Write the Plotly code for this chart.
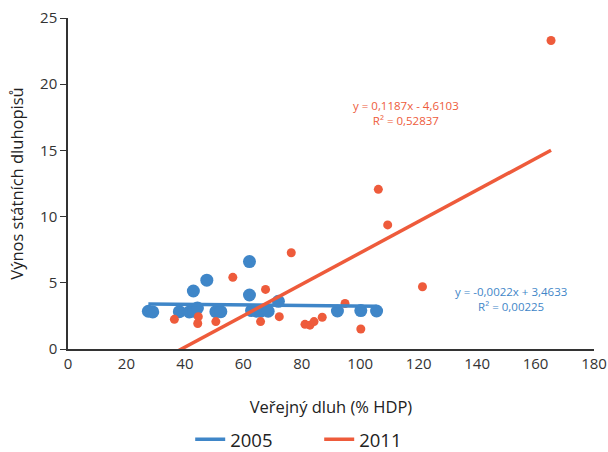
import plotly.graph_objects as go

# 2005 data (public debt % GDP, bond yield %)
debt_2005 = [27.5, 29.0, 38.1, 41.5, 43.0, 44.3, 42.9, 47.5, 50.6, 52.3, 62.1, 62.1,
             62.8, 64.5, 66.0, 68.5, 72.0, 92.2, 100.2, 105.6]
yield_2005 = [2.85, 2.8, 2.82, 2.8, 2.85, 3.1, 4.38, 5.2, 2.82, 2.82, 6.6, 4.08,
              2.9, 2.85, 2.85, 2.85, 3.6, 2.87, 2.9, 2.87]

# 2011 data
debt_2011 = [36.4, 44.6, 44.4, 50.6, 56.4, 67.6, 65.9, 72.3, 76.4, 81.1, 82.8, 84.2,
             87.0, 94.8, 100.2, 106.2, 109.4, 121.3, 165.3]
yield_2011 = [2.24, 2.44, 1.93, 2.07, 5.41, 4.5, 2.07, 2.44, 7.27, 1.86, 1.8, 2.07,
              2.4, 3.44, 1.51, 12.06, 9.37, 4.7, 23.3]

# trendline coefficients (slope, intercept) from chart labels
coef_2005 = [-0.0022, 3.4633]
coef_2011 = [0.1187, -4.6103]
eq_2005 = "y = -0,0022x + 3,4633<br>R² = 0,00225"
eq_2011 = "y = 0,1187x - 4,6103<br>R² = 0,52837"

x_ticks = [0, 20, 40, 60, 80, 100, 120, 140, 160, 180]
y_ticks = [0, 5, 10, 15, 20, 25]

BLUE = "#3F86C8"
RED = "#EE5B3B"

fig = go.Figure()

fig.add_trace(go.Scatter(x=debt_2005, y=yield_2005, mode="markers",
                         marker=dict(color=BLUE, size=13), showlegend=False,
                         hoverinfo="x+y"))
fig.add_trace(go.Scatter(x=debt_2011, y=yield_2011, mode="markers",
                         marker=dict(color=RED, size=9), showlegend=False,
                         hoverinfo="x+y"))

x05 = [min(debt_2005), max(debt_2005)]
fig.add_trace(go.Scatter(x=x05, y=[coef_2005[0] * v + coef_2005[1] for v in x05],
                         mode="lines", line=dict(color=BLUE, width=3.5), name="2005"))
x11 = [min(debt_2011), max(debt_2011)]
fig.add_trace(go.Scatter(x=x11, y=[coef_2011[0] * v + coef_2011[1] for v in x11],
                         mode="lines", line=dict(color=RED, width=3.5), name="2011"))

fig.add_annotation(x=115.5, y=17.8, xref="x", yref="y", text=eq_2011, showarrow=False,
                   font=dict(color=RED, size=11.5), align="center")
fig.add_annotation(x=151.5, y=3.75, xref="x", yref="y", text=eq_2005, showarrow=False,
                   font=dict(color=BLUE, size=11.5), align="center")

fig.update_layout(
    width=608, height=452,
    margin=dict(l=68, r=14, t=18, b=103, autoexpand=False),
    paper_bgcolor="white", plot_bgcolor="white",
    font=dict(family="Open Sans", color="#222222"),
    legend=dict(orientation="h", xref="container", yref="container",
                x=0.525, xanchor="center", y=0.027, yanchor="middle",
                font=dict(size=18.5), entrywidthmode="pixels", entrywidth=84),
)
fig.update_xaxes(range=[0, 180], tickvals=x_ticks, showgrid=False, zeroline=False,
                 showline=True, linecolor="#333333", linewidth=1.5, ticks="",
                 automargin=False,
                 tickfont=dict(size=15, color="#333333"),
                 title=dict(text="Veřejný dluh (% HDP)", font=dict(size=16.5, color="#222222"),
                            standoff=30))
fig.update_yaxes(range=[0, 25], tickvals=y_ticks, showgrid=False, zeroline=False,
                 showline=True, linecolor="#333333", linewidth=1.5, ticks="outside",
                 ticklen=6, tickcolor="#333333", automargin=False,
                 tickfont=dict(size=15, color="#333333"),
                 title=dict(text="Výnos státních dluhopisů", font=dict(size=16.5, color="#222222"),
                            standoff=12))

fig.write_html("out.html", config={"displayModeBar": False},
               post_script="document.body.style.margin='0';document.body.style.overflow='hidden';")
